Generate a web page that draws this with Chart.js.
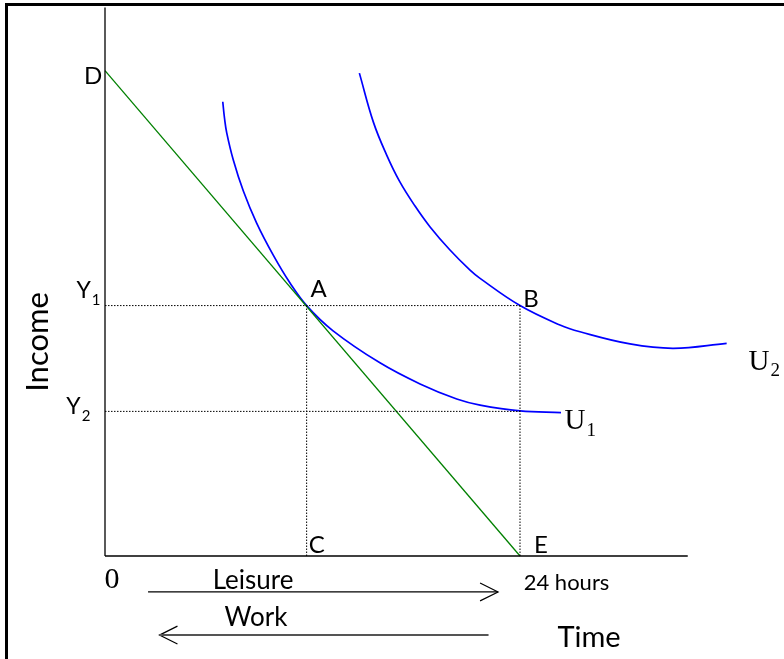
<!DOCTYPE html>
<html>
<head>
<meta charset="utf-8">
<script src="https://cdn.jsdelivr.net/npm/chart.js@4.4.0/dist/chart.umd.min.js"></script>
<style>
  body { margin: 0; background: #fff; }
  #wrap { position: relative; width: 784px; height: 659px; overflow: hidden; }
  #frame { position: absolute; left: 5px; top: 3px; width: 800px; height: 700px;
           border-left: 3px solid #000; border-top: 3px solid #000; }
  #chart { position: absolute; left: 0; top: 0; }
</style>
</head>
<body>
<div id="wrap">
  <div id="frame"></div>
  <canvas id="chart" width="784" height="659"></canvas>
</div>
<script>
// hours on x (E = 24 hours), income on y (D = 100)
const budgetX = [0, 24];
const budgetY = [100, 0];

const u1X = [6.81, 6.91, 7.04, 7.42, 8.00, 8.77, 9.73, 10.70, 11.66, 13.19, 15.90, 18.22, 20.34, 21.69, 24.00, 26.37];
const u1Y = [93.6, 90.25, 87.2, 81.6, 75.2, 68.6, 62.0, 56.25, 51.6, 46.4, 39.8, 35.45, 32.35, 31.1, 29.9, 29.55];

const u2X = [14.71, 15.52, 16.29, 17.02, 17.93, 18.80, 19.95, 21.11, 21.69, 24.00, 26.31, 27.47, 30.36, 32.87, 35.95];
const u2Y = [99.5, 89.4, 82.6, 77.3, 72.1, 67.8, 63.05, 58.9, 57.2, 51.6, 47.6, 46.2, 43.7, 42.8, 43.8];

const incomeY1 = 51.6;
const incomeY2 = 29.8;
const leisureA = 11.66;
const fullDay = 24;
const axisEndX = 33.7;

// arrows under the axis (data units)
const leisureArrowX = [2.49, 22.73];
const leisureArrowY = -7.4;
const workArrowX = [22.18, 3.15];
const workArrowY = -16.3;

// text labels
const labelText = ['D', 'A', 'B', 'C', 'E', 'Y', 'Y', 'U', 'U', '0', 'Leisure', '24 hours', 'Work', 'Time', 'Income'];
const labelSub  = ['',  '',  '',  '',  '',  '1', '2', '1', '2', '',  '',        '',         '',     '',     ''];
const labelX    = [-0.69, 12.35, 24.64, 12.24, 25.21, -1.24, -1.82, 27.18, 37.82, 0.40, 8.56, 26.69, 8.73, 27.99, -3.85];
const labelY    = [98.9, 55.0, 52.9, 2.16, 2.16, 54.6, 30.7, 27.7, 39.9, -4.95, -5.15, -5.56, -12.78, -16.9, 44.1];

const sans = "Lato, 'Open Sans', sans-serif";
const serif = "'Liberation Serif', 'DejaVu Serif', serif";
const labelFont = [
  '24px ' + sans, '24px ' + sans, '24px ' + sans, '24px ' + sans, '24px ' + sans,
  '23px ' + sans, '23px ' + sans,
  '29px ' + serif, '29px ' + serif, '30px ' + serif,
  '26px ' + sans, '22px ' + sans, '26px ' + sans, '29px ' + sans, '31px ' + sans
];

function pts(xs, ys) {
  return xs.map((v, i) => ({ x: v, y: Array.isArray(ys) ? ys[i] : ys }));
}

function seg(data, color, width, dash) {
  return {
    data: data,
    borderColor: color,
    borderWidth: width,
    borderDash: dash || [],
    pointRadius: 0,
    showLine: true,
    fill: false,
    clip: false,
    tension: 0
  };
}

function curve(xs, ys) {
  const d = seg(pts(xs, ys), '#0000ff', 1.7);
  d.tension = 0.4;
  return d;
}

// arrow head in data units: 18px long, 9px half height
const headDx = 1.04, headDy = 1.85;

const labelPlugin = {
  id: 'textLabels',
  afterDatasetsDraw(chart) {
    const ctx = chart.ctx;
    const xs = chart.scales.x, ys = chart.scales.y;
    ctx.save();
    ctx.fillStyle = '#000';
    labelText.forEach((t, i) => {
      const px = xs.getPixelForValue(labelX[i]);
      const py = ys.getPixelForValue(labelY[i]);
      ctx.font = labelFont[i];
      ctx.textAlign = 'center';
      ctx.textBaseline = 'middle';
      if (t === 'Income') {
        ctx.save();
        ctx.translate(px, py);
        ctx.rotate(-Math.PI / 2);
        ctx.fillText(t, 0, 0);
        ctx.restore();
        return;
      }
      ctx.fillText(t, px, py);
      if (labelSub[i]) {
        const w = ctx.measureText(t).width;
        const isSerif = labelFont[i].indexOf('Serif') >= 0;
        ctx.font = (isSerif ? '19px ' + serif : '15px ' + sans);
        ctx.textAlign = 'left';
        ctx.fillText(labelSub[i], px + w / 2 + 1, py + 9);
      }
    });
    ctx.restore();
  }
};

const ctx = document.getElementById('chart').getContext('2d');
new Chart(ctx, {
  type: 'scatter',
  data: {
    datasets: [
      seg(pts([0, axisEndX], [0, 0]), '#000', 1.3),
      seg(pts([0, 0], [0, 113]), '#000', 1.3),
      seg(pts([0, fullDay], incomeY1), '#000', 1, [1.5, 1.5]),
      seg(pts([0, fullDay], incomeY2), '#000', 1, [1.5, 1.5]),
      seg(pts([leisureA, leisureA], [0, incomeY1]), '#000', 1, [1.5, 1.5]),
      seg(pts([fullDay, fullDay], [0, incomeY1]), '#000', 1, [1.5, 1.5]),
      seg(pts(budgetX, budgetY), '#008000', 1.3),
      curve(u1X, u1Y),
      curve(u2X, u2Y),
      seg(pts(leisureArrowX, leisureArrowY), '#000', 1.2),
      seg(pts([leisureArrowX[1] - headDx, leisureArrowX[1], leisureArrowX[1] - headDx],
              [leisureArrowY + headDy, leisureArrowY, leisureArrowY - headDy]), '#000', 1.2),
      seg(pts(workArrowX, workArrowY), '#555', 2),
      seg(pts([workArrowX[1] + headDx, workArrowX[1], workArrowX[1] + headDx],
              [workArrowY + headDy, workArrowY, workArrowY - headDy]), '#000', 1.2)
    ]
  },
  options: {
    responsive: false,
    animation: false,
    devicePixelRatio: 1,
    layout: { padding: { left: 105, right: 4.6, top: 7.6, bottom: 103 } },
    plugins: { legend: { display: false }, tooltip: { enabled: false } },
    scales: {
      x: { type: 'linear', min: 0, max: 39, display: false },
      y: { type: 'linear', min: 0, max: 113, display: false }
    }
  },
  plugins: [labelPlugin]
});
</script>
</body>
</html>
